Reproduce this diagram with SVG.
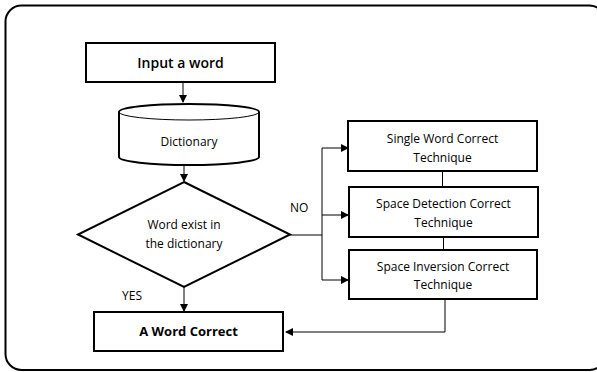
<svg xmlns="http://www.w3.org/2000/svg" width="597" height="372" viewBox="0 0 597 372">
<defs>
<marker id="ah" markerWidth="8" markerHeight="8" refX="7" refY="4" orient="auto" markerUnits="userSpaceOnUse">
<path d="M0,0 L8,4 L0,8 Z" fill="#000"/>
</marker>
<style>
.box{fill:#fff;stroke:#000;stroke-width:2}
.t{font-family:"Open Sans","Liberation Sans",sans-serif;font-size:12px;fill:#000;text-anchor:middle}
.b{font-weight:bold;font-size:13px}
.s{font-weight:600;font-size:14px}
.ln{fill:none;stroke:#000;stroke-width:1}
.lbl{font-family:"Open Sans","Liberation Sans",sans-serif;font-size:12px;fill:#000}
</style>
</defs>
<rect width="597" height="372" fill="#fff"/>
<rect x="5.5" y="5.5" width="600" height="364.5" rx="16" fill="none" stroke="#000" stroke-width="2"/>
<g id="connectors">
<line class="ln" x1="183" y1="82" x2="183" y2="102" marker-end="url(#ah)"/>
<line class="ln" x1="184" y1="165" x2="184" y2="181" marker-end="url(#ah)"/>
<line class="ln" x1="184" y1="287" x2="184" y2="311" marker-end="url(#ah)"/>
<path class="ln" d="M290,235 H322"/>
<path class="ln" d="M322,148 V280"/>
<line class="ln" x1="322" y1="148" x2="348" y2="148" marker-end="url(#ah)"/>
<line class="ln" x1="322" y1="215" x2="348" y2="215" marker-end="url(#ah)"/>
<line class="ln" x1="322" y1="280" x2="348" y2="280" marker-end="url(#ah)"/>
<line class="ln" x1="442.5" y1="171" x2="442.5" y2="187"/>
<line class="ln" x1="443.5" y1="237" x2="443.5" y2="250"/>
<path class="ln" d="M445,299 V332 H286" marker-end="url(#ah)"/>
<text class="lbl" x="290" y="212">NO</text>
<text class="lbl" x="122" y="300" font-size="13">YES</text>
</g>
<g id="input">
<rect class="box" x="86" y="43" width="189" height="39"/>
<text class="t s" x="180.5" y="68">Input a word</text>
</g>
<g id="dictionary">
<path class="box" d="M119,112 V157 A70,8 0 0 0 259,157 V112 A70,8 0 0 0 119,112 Z"/>
<path class="ln" d="M119,112 A70,8 0 0 0 259,112" stroke-width="2"/>
<text class="t" x="189" y="146">Dictionary</text>
</g>
<g id="decision">
<polygon class="box" points="184,182 290,234.5 184,287 78,234.5"/>
<text class="t" x="184" y="229">Word exist in</text>
<text class="t" x="184" y="248">the dictionary</text>
</g>
<g id="single">
<rect class="box" x="348" y="121" width="189" height="50"/>
<text class="t" x="442.5" y="143">Single Word Correct</text>
<text class="t" x="442.5" y="162">Technique</text>
</g>
<g id="detection">
<rect class="box" x="349" y="187" width="189" height="50"/>
<text class="t" x="443.5" y="208">Space Detection Correct</text>
<text class="t" x="443.5" y="227">Technique</text>
</g>
<g id="inversion">
<rect class="box" x="349" y="250" width="188" height="49"/>
<text class="t" x="443" y="271">Space Inversion Correct</text>
<text class="t" x="443" y="289">Technique</text>
</g>
<g id="correct">
<rect class="box" x="94" y="312" width="189" height="39"/>
<text class="t b" x="188.5" y="336">A Word Correct</text>
</g>
</svg>
